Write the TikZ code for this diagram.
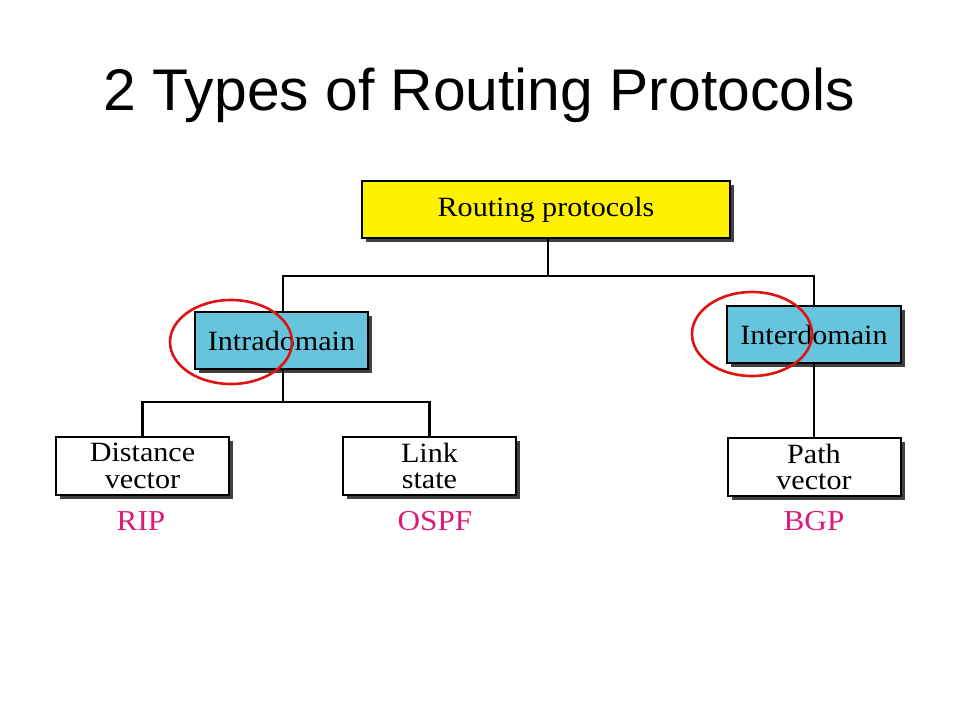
\documentclass[tikz,border=0pt]{standalone}
\usepackage{fontspec}
\setmainfont{Liberation Serif}
\newfontfamily\titlefont{Liberation Sans}
\newfontfamily\boxfont[FakeStretch=1.08]{Liberation Serif}
\usetikzlibrary{shadows}
\definecolor{boxblue}{RGB}{102,196,220}
\definecolor{protopink}{RGB}{224,24,122}
\definecolor{ringred}{RGB}{220,20,20}
\begin{document}
\begin{tikzpicture}[x=1bp,y=-1bp,
    box/.style={draw,line width=2bp,inner sep=0pt,align=center,
      font=\boxfont\fontsize{28}{27}\selectfont,
      drop shadow={shadow xshift=4bp,shadow yshift=-4bp,fill=black!75,opacity=1}},
    lbl/.style={text=protopink,font=\boxfont\fontsize{29}{29}\selectfont},
    link/.style={line width=2.6bp},
    ring/.style={draw=ringred,line width=2.6bp}]
          \useasboundingbox (0,0) rectangle (960,720);
          \node[anchor=base,font=\titlefont\fontsize{59}{60}\selectfont] (title) at (479,111) {2 Types of Routing Protocols};

          \node[box,fill=yellow,minimum width=368bp,minimum height=57bp] (root) at (546,209.5) {Routing protocols};
          \node[box,fill=boxblue,minimum width=173bp,minimum height=57bp] (intra) at (281.5,340.5) {Intradomain};
          \node[box,fill=boxblue,minimum width=174bp,minimum height=57bp] (inter) at (814,334.5) {Interdomain};
          \node[box,fill=white,minimum width=173bp,minimum height=58bp] (dv) at (142.5,466) {Distance\\vector};
          \node[box,fill=white,minimum width=173bp,minimum height=58bp] (ls) at (429.5,466) {Link\\state};
          \node[box,fill=white,minimum width=173bp,minimum height=58bp] (pv) at (814,467) {Path\\vector};

          \node[lbl] (rip) at (141,521) {RIP};
          \node[lbl] (ospf) at (435,521) {OSPF};
          \node[lbl] (bgp) at (814,521) {BGP};

          \coordinate (top) at (548,276);
          \coordinate (low) at (283,402);
          \draw[link] (root.south -| top) -- (top);
          \draw[link] (intra.north -| low) |- (top) -| (inter.north);
          \draw[link] (intra.south -| low) -- (low);
          \draw[link] (dv.north) |- (low) -| (ls.north);
          \draw[link] (inter) -- (pv);

          \draw[ring] (231,342) ellipse [x radius=61,y radius=42];
          \draw[ring] (752,334) ellipse [x radius=60,y radius=42];
        \end{tikzpicture}
\end{document}
